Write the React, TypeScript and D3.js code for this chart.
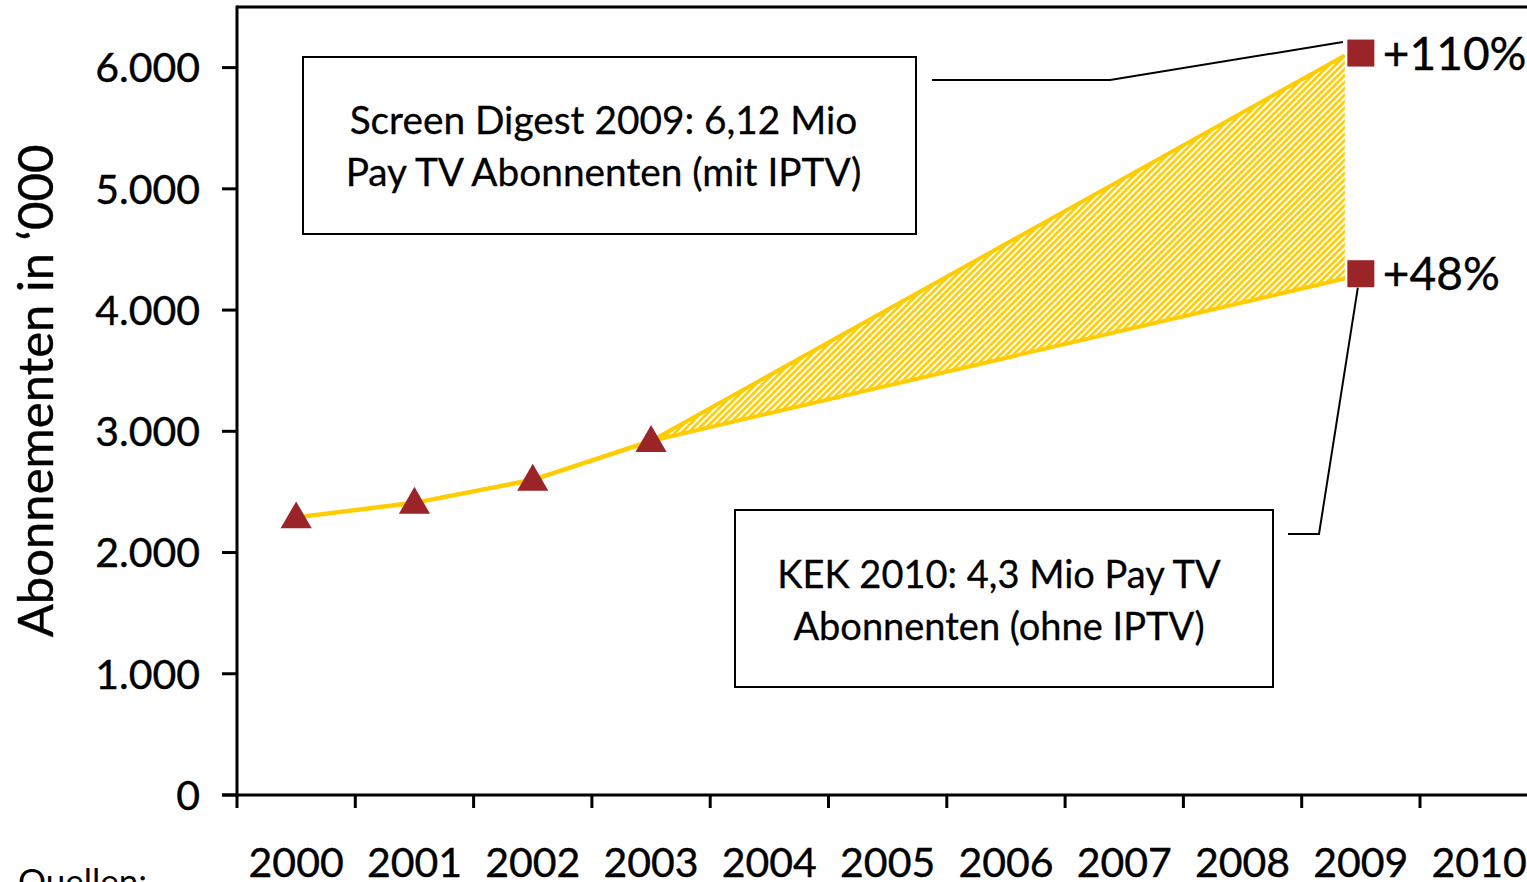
import React from "react";
import * as d3 from "d3";

const years = ["2000", "2001", "2002", "2003", "2004", "2005", "2006", "2007", "2008", "2009", "2010"];
const histYears = ["2000", "2001", "2002", "2003"];
const histValues = [2290, 2410, 2600, 2920];
const forecastYears = ["2003", "2009"];
const upperValues = [2920, 6100];
const lowerValues = [2920, 4260];
const endLabels = ["+110%", "+48%"];
const endValues = [6120, 4300];
const yTicks = [0, 1000, 2000, 3000, 4000, 5000, 6000];
const yTickLabels = ["0", "1.000", "2.000", "3.000", "4.000", "5.000", "6.000"];
const box1Lines = ["Screen Digest 2009: 6,12 Mio", "Pay TV Abonnenten (mit IPTV)"];
const box2Lines = ["KEK 2010: 4,3 Mio Pay TV", "Abonnenten (ohne IPTV)"];

const W = 1527;
const H = 882;
const left = 237;
const top = 7;
const bottom = 795;
const step = 118.3;
const YELLOW = "#FFCC00";
const RED = "#9B2428";
const FONT = "Lato, 'Open Sans', sans-serif";

export default function App() {
  const x = d3.scaleBand<string>().domain(years).range([left, left + step * years.length]);
  const cx = (yr: string) => (x(yr) as number) + x.bandwidth() / 2;
  const y = d3.scaleLinear().domain([0, 6500]).range([bottom, top]);
  const endInset = 16;
  const fx = (yr: string, i: number) => (i === forecastYears.length - 1 ? cx(yr) - endInset : cx(yr));

  const histLine = d3.line<number>().x((_, i) => cx(histYears[i])).y((d) => y(d))(histValues) as string;
  const upperLine = d3.line<number>().x((_, i) => fx(forecastYears[i], i)).y((d) => y(d))(upperValues) as string;
  const lowerLine = d3.line<number>().x((_, i) => fx(forecastYears[i], i)).y((d) => y(d))(lowerValues) as string;
  const area = d3
    .area<number>()
    .x((_, i) => fx(forecastYears[i], i))
    .y0((_, i) => y(lowerValues[i]))
    .y1((d) => y(d))(upperValues) as string;

  const tri = d3.symbol().type(d3.symbolTriangle).size(420)() as string;
  const sq = 27;
  const x09 = cx("2009");

  const b1 = { x: 303, y: 57, w: 613, h: 177 };
  const b2 = { x: 735, y: 510, w: 538, h: 177 };

  return (
    <svg width={W} height={H} style={{ position: "absolute", left: 0, top: 0, background: "#fff" }}>
      <defs>
        <pattern id="hatch" patternUnits="userSpaceOnUse" width={4.6} height={4.6} patternTransform="rotate(45)">
          <rect width={4.6} height={4.6} fill="#fff" />
          <rect width={2.6} height={4.6} fill={YELLOW} />
        </pattern>
      </defs>

      <line x1={left} x2={W} y1={top} y2={top} stroke="#000" strokeWidth={3} />
      <line x1={left} x2={left} y1={top - 1.5} y2={bottom + 13} stroke="#000" strokeWidth={3} />
      <line x1={left - 15} x2={W} y1={bottom} y2={bottom} stroke="#000" strokeWidth={3} />
      {yTicks.map((t, i) => (
        <g key={t}>
          <line x1={left - 15} x2={left} y1={y(t)} y2={y(t)} stroke="#000" strokeWidth={3} />
          <text x={200} y={y(t)} dy="0.36em" textAnchor="end" fontFamily={FONT} fontSize={41} fill="#000" stroke="#000" strokeWidth={0.4}>
            {yTickLabels[i]}
          </text>
        </g>
      ))}
      {years.map((yr) => (
        <g key={yr}>
          <line x1={(x(yr) as number) + step} x2={(x(yr) as number) + step} y1={bottom} y2={bottom + 13} stroke="#000" strokeWidth={3} />
          <text x={cx(yr)} y={877} textAnchor="middle" fontFamily={FONT} fontSize={41} fill="#000" stroke="#000" strokeWidth={0.4}>
            {yr}
          </text>
        </g>
      ))}
      <text
        transform={`translate(53, ${(145 + 637) / 2}) rotate(-90)`}
        textAnchor="middle"
        fontFamily={FONT}
        fontSize={49}
        fill="#000"
        stroke="#000"
        strokeWidth={0.4}
      >
        Abonnementen in ‘000
      </text>
      <text x={18} y={894} fontFamily={FONT} fontSize={35} fill="#000">
        Quellen:
      </text>

      <path d={area} fill="url(#hatch)" />
      <path d={upperLine} fill="none" stroke={YELLOW} strokeWidth={4} />
      <path d={lowerLine} fill="none" stroke={YELLOW} strokeWidth={4} />
      <path d={histLine} fill="none" stroke={YELLOW} strokeWidth={4.5} />

      {histValues.map((v, i) => (
        <path key={i} d={tri} transform={`translate(${cx(histYears[i])}, ${y(v) + 2})`} fill={RED} />
      ))}
      {endValues.map((v, i) => (
        <g key={i}>
          <rect x={x09 - sq / 2} y={y(v) - sq / 2} width={sq} height={sq} fill={RED} />
          <text x={x09 + 22} y={y(v)} dy="0.36em" fontFamily={FONT} fontSize={46} fill="#000" stroke="#000" strokeWidth={0.4}>
            {endLabels[i]}
          </text>
        </g>
      ))}

      <rect x={b1.x} y={b1.y} width={b1.w} height={b1.h} fill="#fff" stroke="#000" strokeWidth={2} />
      {box1Lines.map((l, i) => (
        <text key={i} x={b1.x + b1.w / 2 - 6} y={134 + i * 52} textAnchor="middle" fontFamily={FONT} fontSize={38.8} fill="#000" stroke="#000" strokeWidth={0.3}>
          {l}
        </text>
      ))}
      <polyline points={`932,80 1110,80 ${x09 - 18},${y(endValues[0]) - 11}`} fill="none" stroke="#000" strokeWidth={2} />

      <rect x={b2.x} y={b2.y} width={b2.w} height={b2.h} fill="#fff" stroke="#000" strokeWidth={2} />
      {box2Lines.map((l, i) => (
        <text key={i} x={b2.x + b2.w / 2 - 5} y={588 + i * 52} textAnchor="middle" fontFamily={FONT} fontSize={38} fill="#000" stroke="#000" strokeWidth={0.3}>
          {l}
        </text>
      ))}
      <polyline points={`1288,534 1319,534 ${x09 - 3},${y(endValues[1]) + 14}`} fill="none" stroke="#000" strokeWidth={2} />
    </svg>
  );
}
